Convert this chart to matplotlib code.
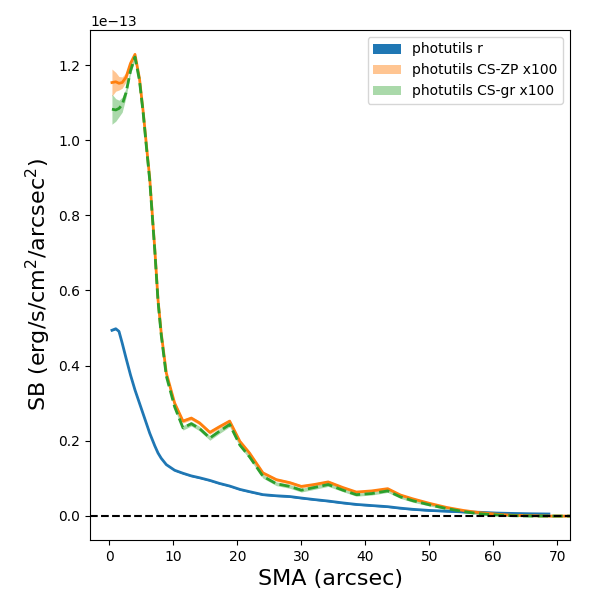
import numpy as np
import matplotlib
matplotlib.use("Agg")
import matplotlib.pyplot as plt

UNIT = 1e-13

# Blue profile: photutils r
sma_r = [0.4, 1.0, 1.5, 2.0, 2.6, 3.3, 4.0, 4.7, 5.3, 5.8, 6.3, 7.1, 7.6, 8.1, 8.9,
         10.2, 11.5, 12.8, 14.1, 15.7, 17.2, 18.8, 20.4, 21.9, 24.0, 26.1, 28.2,
         30.0, 32.0, 34.2, 36.5, 38.6, 41.0, 43.5, 45.5, 47.4, 50.0, 52.7, 55.3,
         57.9, 60.5, 63.0, 66.0, 68.7]
sb_r = [0.494, 0.498, 0.491, 0.460, 0.420, 0.375, 0.335, 0.300, 0.270, 0.245,
        0.220, 0.186, 0.167, 0.153, 0.136, 0.121, 0.113, 0.106, 0.101, 0.094,
        0.086, 0.079, 0.070, 0.064, 0.056, 0.053, 0.051, 0.047, 0.043, 0.039,
        0.034, 0.030, 0.027, 0.024, 0.020, 0.017, 0.014, 0.012, 0.010, 0.009,
        0.007, 0.006, 0.005, 0.0045]
err_r = [0.002] * len(sb_r)

# CS profiles (x100)
sma_cs = [0.4, 1.0, 1.5, 2.0, 2.6, 3.3, 4.0, 4.7, 5.3, 5.8, 6.3, 7.1, 7.6, 8.1, 8.9,
          10.2, 11.5, 12.8, 14.1, 15.7, 17.2, 18.8, 20.4, 21.9, 24.0, 26.1, 28.2,
          30.0, 32.0, 34.2, 36.5, 38.6, 41.0, 43.5, 45.5, 47.4, 50.0, 52.7, 55.3,
          57.9, 60.5, 63.0, 66.0, 69.0, 72.0, 75.0]
sb_zp = [1.154, 1.156, 1.152, 1.154, 1.168, 1.205, 1.229, 1.165, 1.074, 0.985,
         0.900, 0.710, 0.576, 0.487, 0.380, 0.300, 0.252, 0.260, 0.247, 0.222,
         0.237, 0.252, 0.198, 0.167, 0.114, 0.096, 0.088, 0.078, 0.083, 0.090,
         0.075, 0.063, 0.066, 0.072, 0.055, 0.045, 0.033, 0.022, 0.014, 0.008,
         0.004, 0.001, 0.000, -0.001, -0.001, -0.001]
err_zp = [0.036, 0.025, 0.018, 0.015, 0.012, 0.008, 0.006, 0.005, 0.005, 0.005,
          0.005, 0.005, 0.005, 0.005, 0.005, 0.005, 0.005, 0.005, 0.005, 0.005,
          0.005, 0.005, 0.004, 0.004, 0.004, 0.004, 0.004, 0.004, 0.004, 0.004,
          0.003, 0.003, 0.003, 0.003, 0.003, 0.003, 0.003, 0.002, 0.002, 0.002,
          0.002, 0.002, 0.002, 0.002, 0.002, 0.002]
sb_gr = [1.083, 1.081, 1.085, 1.095, 1.127, 1.185, 1.222, 1.160, 1.070, 0.980,
         0.895, 0.705, 0.572, 0.482, 0.372, 0.290, 0.234, 0.245, 0.232, 0.207,
         0.225, 0.243, 0.188, 0.157, 0.105, 0.085, 0.078, 0.068, 0.075, 0.083,
         0.068, 0.056, 0.059, 0.066, 0.050, 0.040, 0.029, 0.019, 0.011, 0.005,
         0.002, 0.000, -0.001, -0.001, -0.001, -0.001]
err_gr = [0.040, 0.030, 0.022, 0.020, 0.012, 0.008, 0.007, 0.006, 0.006, 0.006,
          0.006, 0.006, 0.006, 0.006, 0.006, 0.006, 0.006, 0.006, 0.006, 0.006,
          0.006, 0.006, 0.005, 0.005, 0.005, 0.005, 0.005, 0.005, 0.005, 0.005,
          0.004, 0.004, 0.004, 0.004, 0.004, 0.004, 0.003, 0.003, 0.003, 0.003,
          0.002, 0.002, 0.002, 0.002, 0.002, 0.002]

labels = ["photutils r", "photutils CS-ZP x100", "photutils CS-gr x100"]

def arr(v):
    return np.asarray(v, dtype=float) * UNIT

fig, ax = plt.subplots(figsize=(6, 6), dpi=100)
fig.subplots_adjust(left=0.15, right=0.95, bottom=0.1, top=0.95)

x_r = np.asarray(sma_r)
x_cs = np.asarray(sma_cs)

ax.fill_between(x_r, arr(sb_r) - arr(err_r), arr(sb_r) + arr(err_r),
                color="C0", alpha=1.0, label=labels[0], lw=0)
ax.plot(x_r, arr(sb_r), color="C0", lw=2)

ax.fill_between(x_cs, arr(sb_zp) - arr(err_zp), arr(sb_zp) + arr(err_zp),
                color="C1", alpha=0.45, label=labels[1], lw=0)
ax.plot(x_cs, arr(sb_zp), color="C1", lw=2)

ax.fill_between(x_cs, arr(sb_gr) - arr(err_gr), arr(sb_gr) + arr(err_gr),
                color="C2", alpha=0.4, label=labels[2], lw=0)
ax.plot(x_cs, arr(sb_gr), color="C2", lw=2, ls="--")

ax.axhline(0, color="k", ls="--", lw=1.5)

ax.set_xlim(-3.03, 72.0)
ax.set_ylim(-0.0648 * UNIT, 1.294 * UNIT)

ax.set_xlabel("SMA (arcsec)", fontsize=16)
ax.set_ylabel("SB (erg/s/cm$^2$/arcsec$^2$)", fontsize=16)
ax.legend(loc="upper right")

fig.savefig("out.png", dpi=100)
